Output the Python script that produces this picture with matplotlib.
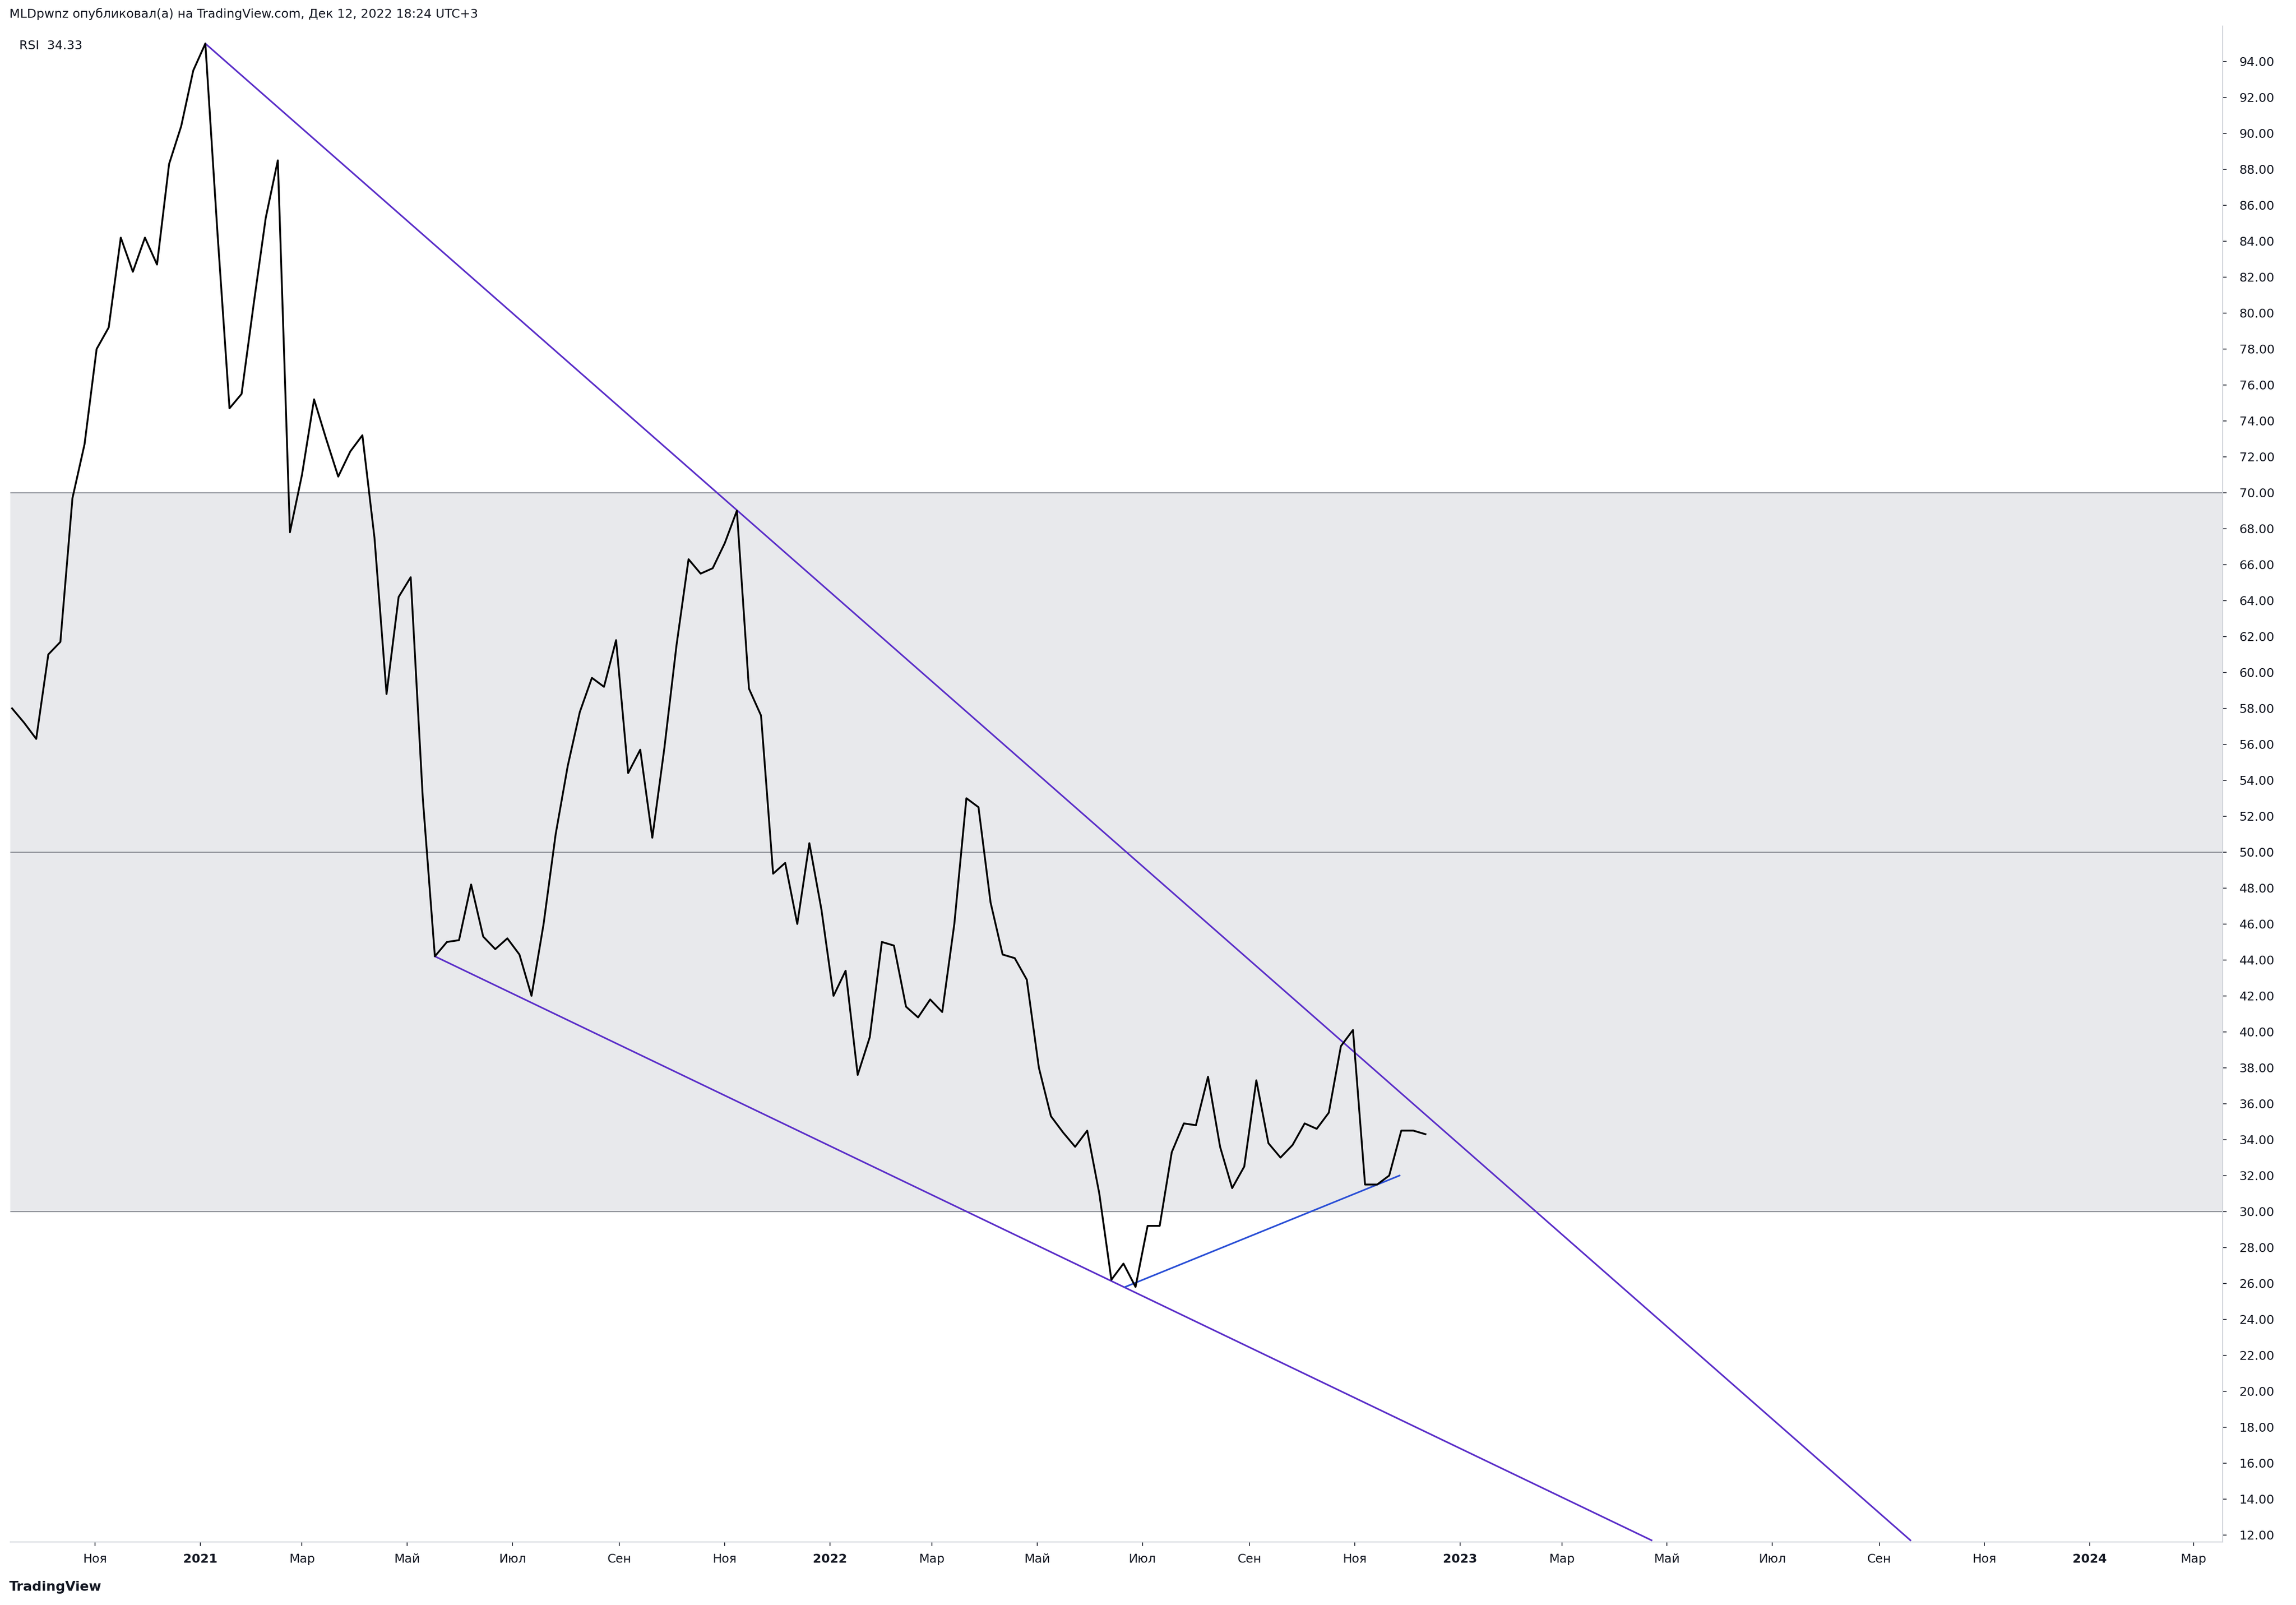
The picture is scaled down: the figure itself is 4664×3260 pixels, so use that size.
import matplotlib
matplotlib.use("Agg")
import matplotlib.pyplot as plt
import pandas as pd
import numpy as np

start_date = "2020-09-14"
rsi = [58.0, 57.2, 56.3, 61.0, 61.7, 69.7, 72.7, 78.0, 79.2, 84.2, 82.3, 84.2, 82.7, 88.3, 90.4, 93.5, 95.0,
       84.5, 74.7, 75.5, 80.5, 85.3, 88.5, 67.8, 71.0, 75.2, 73.0, 70.9, 72.3, 73.2, 67.5, 58.8, 64.2, 65.3, 53.0, 44.2,
       45.0, 45.1, 48.2, 45.3, 44.6, 45.2, 44.3, 42.0,
       46.0, 51.0, 54.8, 57.8, 59.7, 59.2, 61.8, 54.4, 55.7, 50.8,
       55.8, 61.5, 66.3, 65.5, 65.8, 67.2, 69.0,
       59.1, 57.6, 48.8, 49.4, 46.0, 50.5, 46.8, 42.0, 43.4, 37.6,
       39.7, 45.0, 44.8, 41.4, 40.8, 41.8, 41.1, 46.0, 53.0,
       52.5, 47.2, 44.3, 44.1, 42.9, 38.0, 35.3, 34.4, 33.6, 34.5, 31.0, 26.2,
       27.1, 25.8,
       29.2, 29.2, 33.3, 34.9, 34.8, 37.5, 33.6, 31.3, 32.5, 37.3, 33.8, 33.0, 33.7, 34.9, 34.6, 35.5, 39.2, 40.1,
       31.5, 31.5, 32.0, 34.5, 34.5, 34.3]
dates = pd.date_range(start_date, periods=len(rsi), freq="7D")

upper_line_dates = ["2021-01-04", "2023-09-19"]
upper_line_vals = [95.0, 11.7]
lower_line_dates = ["2021-05-17", "2023-04-22"]
lower_line_vals = [44.2, 11.7]
blue_line_dates = ["2022-06-21", "2022-11-27"]
blue_line_vals = [25.8, 32.0]

month_ticks = ["2020-11-01", "2021-01-01", "2021-03-01", "2021-05-01", "2021-07-01", "2021-09-01", "2021-11-01",
               "2022-01-01", "2022-03-01", "2022-05-01", "2022-07-01", "2022-09-01", "2022-11-01",
               "2023-01-01", "2023-03-01", "2023-05-01", "2023-07-01", "2023-09-01", "2023-11-01",
               "2024-01-01", "2024-03-01"]
month_labels = ["Ноя", "2021", "Мар", "Май", "Июл", "Сен", "Ноя", "2022", "Мар", "Май", "Июл", "Сен", "Ноя",
                "2023", "Мар", "Май", "Июл", "Сен", "Ноя", "2024", "Мар"]

fig = plt.figure(figsize=(4664/300, 3260/300), dpi=300)
ax = fig.add_axes([0.0045, 0.0392, 0.9636, 0.9444])
ax.axhspan(30, 70, color="#e8e9ec", zorder=0, lw=0)
for h in (30, 50, 70):
    ax.axhline(h, color="#8a8d94", lw=0.5, zorder=1)
ax.plot(dates, rsi, color="black", lw=0.9, zorder=3)
ax.plot(pd.to_datetime(upper_line_dates), upper_line_vals, color="#5b2fc9", lw=0.8, zorder=2)
ax.plot(pd.to_datetime(lower_line_dates), lower_line_vals, color="#5b2fc9", lw=0.8, zorder=2)
ax.plot(pd.to_datetime(blue_line_dates), blue_line_vals, color="#2a4fd6", lw=0.8, zorder=2)

ax.set_xlim(pd.Timestamp("2020-09-13"), pd.Timestamp("2024-03-18"))
ax.set_ylim(11.6, 95.96)
ax.yaxis.tick_right()
ax.set_yticks(np.arange(12, 95, 2))
ax.set_yticklabels([f"{v:.2f}" for v in np.arange(12, 95, 2)])
ax.set_xticks(pd.to_datetime(month_ticks))
ax.set_xticklabels(month_labels)
for lab in ax.get_xticklabels():
    if lab.get_text().isdigit():
        lab.set_fontweight("bold")
ax.tick_params(axis="both", labelsize=6, colors="#131722", length=2, width=0.4)
ax.tick_params(axis="y", pad=6)
for s in ax.spines.values():
    s.set_color("#d0d3da")
    s.set_linewidth(0.5)
ax.spines["top"].set_visible(False)
ax.spines["left"].set_visible(False)

ax.text(0.004, 0.991, "RSI  34.33", transform=ax.transAxes, fontsize=6, va="top", ha="left", color="#131722")
fig.text(0.004, 0.995, "MLDpwnz опубликовал(а) на TradingView.com, Дек 12, 2022 18:24 UTC+3",
         fontsize=6, va="top", ha="left", color="#131722")
fig.text(0.004, 0.011, "TradingView", fontsize=6.5, va="center", ha="left", color="#131722", fontweight="bold")

fig.savefig("out.png", dpi=300, facecolor="white")
